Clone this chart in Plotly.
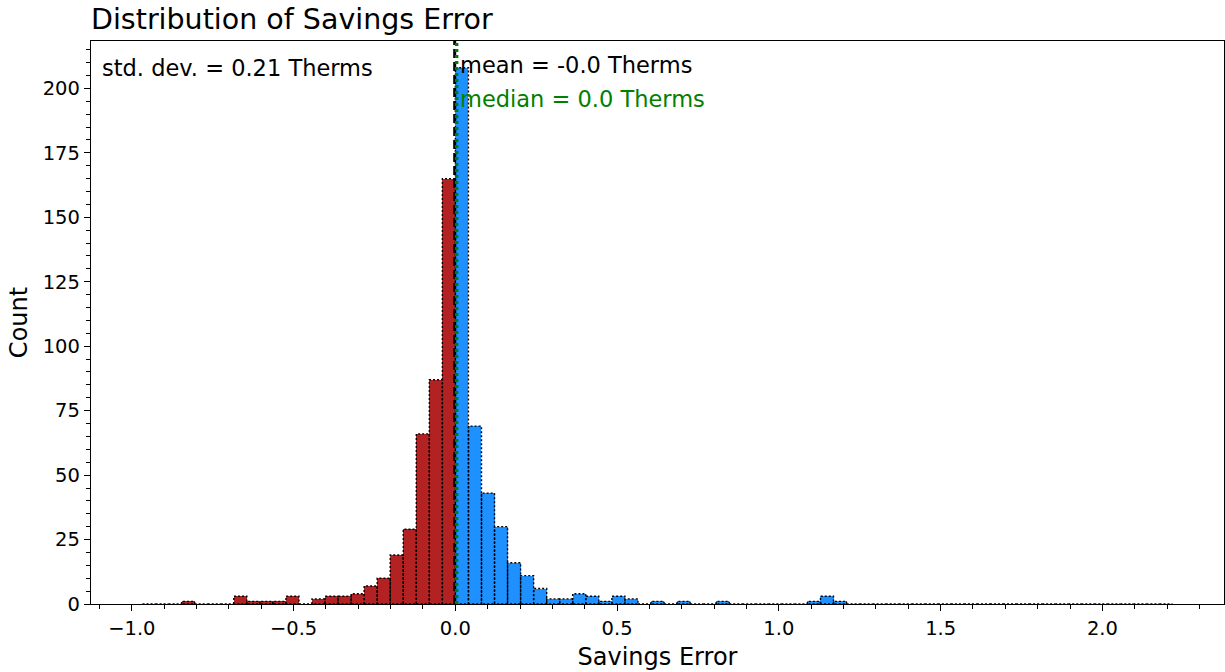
import numpy as np
import plotly.graph_objects as go

# ---- data ----
bin_start = -0.967
bin_width = 0.0403
counts = [0, 0, 0, 1, 0, 0, 0, 3, 1, 1, 1, 3, 0, 2, 3, 3, 4, 7, 10, 19, 29, 66, 87, 165,
          208, 69, 43, 30, 16, 11, 6, 2, 2, 4, 3, 1, 3, 2, 0, 1, 0, 1, 0, 0, 1,
          0, 0, 0, 0, 0, 0, 1, 3, 1,
          0, 0, 0, 0, 0, 0, 0, 0, 0, 0, 0, 0, 0, 0, 0, 0, 0, 0, 0, 0, 0, 0, 0, 0, 0]
mean_value = -0.002
median_value = 0.004
std_text = "std. dev. = 0.21 Therms"
mean_text = "mean = -0.0 Therms"
median_text = "median = 0.0 Therms"
x_ticks = [-1.0, -0.5, 0.0, 0.5, 1.0, 1.5, 2.0]
y_ticks = [0, 25, 50, 75, 100, 125, 150, 175, 200]

FONT = "DejaVu Sans"
NEG = "#B22222"
POS = "#1E90FF"

counts = np.array(counts, dtype=float)
n = len(counts)
lefts = bin_start + bin_width * np.arange(n)
rights = lefts + bin_width
centers = lefts + bin_width / 2
colors = [NEG if c < 0 else POS for c in centers]

fig = go.Figure()
fig.add_trace(go.Bar(x=centers, y=counts, width=bin_width, marker=dict(color=colors, line=dict(width=0)),
                     showlegend=False, hoverinfo="skip"))

# dotted outlines of each bar
ox, oy = [], []
for l, r, h in zip(lefts, rights, counts):
    ox += [l, l, r, r, l, None]
    oy += [0, h, h, 0, 0, None]
fig.add_trace(go.Scatter(x=ox, y=oy, mode="lines", line=dict(color="black", width=1.4, dash="2px,2px"),
                         showlegend=False, hoverinfo="skip"))

# mean & median lines
fig.add_vline(x=mean_value, line=dict(color="black", width=3, dash="9px,4px"), layer="above")
fig.add_vline(x=median_value, line=dict(color="#008000", width=3.5, dash="3px,3px"), layer="above")

fig.add_annotation(text=std_text, xref="x domain", yref="y domain", x=0.008, y=0.952,
                   xanchor="left", yanchor="middle", showarrow=False,
                   font=dict(family=FONT, size=22.5, color="black"))
fig.add_annotation(text=mean_text, x=mean_value, y=209, xanchor="left", yanchor="middle",
                   xshift=3, showarrow=False, font=dict(family=FONT, size=22.5, color="black"))
fig.add_annotation(text=median_text, x=mean_value, y=196, xanchor="left", yanchor="middle",
                   xshift=3, showarrow=False, font=dict(family=FONT, size=22.5, color="#008000"))

xmin = bin_start - 0.05 * (rights[-1] - bin_start)
xmax = rights[-1] + 0.05 * (rights[-1] - bin_start)
fig.update_layout(
    width=1225, height=672,
    margin=dict(l=91, r=1, t=41, b=68),
    plot_bgcolor="white", paper_bgcolor="white",
    font=dict(family=FONT, color="black"),
    title=dict(text="Distribution of Savings Error", x=91 / 1225, xanchor="left", xref="container",
               y=1 - 19 / 672, yanchor="middle", yref="container",
               font=dict(family=FONT, size=28.5, color="black")),
    bargap=0,
    xaxis=dict(range=[xmin, xmax], tickvals=x_ticks, ticktext=[f"{v:.1f}".replace("-", "\u2212") for v in x_ticks],
               ticks="outside", ticklen=6, tickwidth=1.3, tickcolor="black",
               showline=True, linecolor="black", linewidth=1.3, mirror=True, showgrid=False, zeroline=False,
               tickfont=dict(family=FONT, size=19.5),
               minor=dict(dtick=0.1, tick0=0, ticks="outside", ticklen=3.5, tickwidth=1, tickcolor="black"),
               title=dict(text="Savings Error", font=dict(family=FONT, size=24), standoff=9)),
    yaxis=dict(range=[0, counts.max() * 1.05], tickvals=y_ticks,
               ticks="outside", ticklen=6, tickwidth=1.3, tickcolor="black",
               showline=True, linecolor="black", linewidth=1.3, mirror=True, showgrid=False, zeroline=False,
               tickfont=dict(family=FONT, size=19.5),
               minor=dict(dtick=5, tick0=0, ticks="outside", ticklen=3.5, tickwidth=1, tickcolor="black"),
               title=dict(text="Count", font=dict(family=FONT, size=24), standoff=8)),
)

fig.write_html("out.html")
